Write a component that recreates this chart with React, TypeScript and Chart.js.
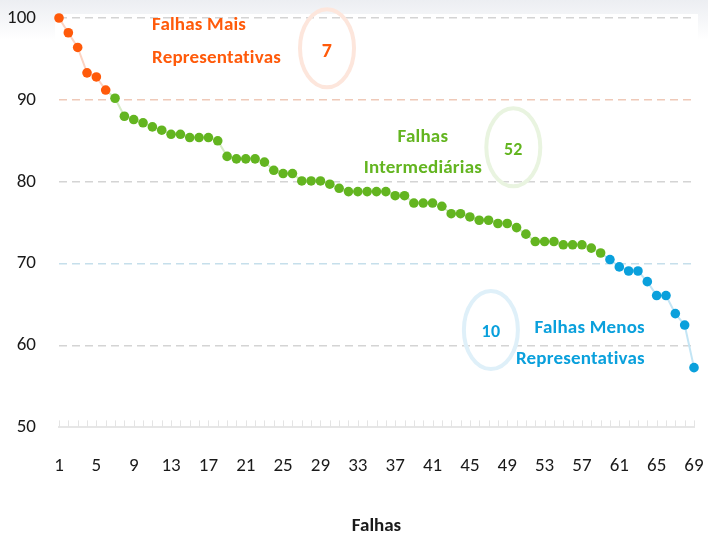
import React, { useEffect, useRef } from 'react';
import { Chart, registerables } from 'chart.js';

Chart.register(...registerables);

const categories: string[] = Array.from({ length: 69 }, (_, i) => String(i + 1));

const values: number[] = [
  100, 98.2, 96.4, 93.3, 92.8, 91.2, 90.2, 88.0, 87.6, 87.2,
  86.7, 86.3, 85.8, 85.8, 85.4, 85.4, 85.4, 85.0, 83.1, 82.8,
  82.8, 82.8, 82.4, 81.4, 81.0, 81.0, 80.1, 80.1, 80.1, 79.7,
  79.2, 78.8, 78.8, 78.8, 78.8, 78.8, 78.3, 78.3, 77.4, 77.4,
  77.4, 77.0, 76.1, 76.1, 75.7, 75.3, 75.3, 74.9, 74.9, 74.4,
  73.6, 72.7, 72.7, 72.7, 72.3, 72.3, 72.3, 71.9, 71.3, 70.5,
  69.6, 69.1, 69.1, 67.8, 66.1, 66.1, 63.9, 62.5, 57.3,
];

// number of consecutive points drawn in each colour group
const groupSizes: number[] = [6, 53, 10];
const groupColors: string[] = ['#ff5a0a', '#63b520', '#0aa0dc'];
const groupLineColors: string[] = ['#fcd3c2', '#d6ecc6', '#c3e5f5'];
const groupCircleColors: string[] = ['#fde6dc', '#e9f4e0', '#dff0f9'];

const groupTitles: string[][] = [
  ['Falhas Mais', 'Representativas'],
  ['Falhas', 'Intermediárias'],
  ['Falhas Menos', 'Representativas'],
];
const groupCounts: string[] = ['7', '52', '10'];

// annotation anchors in data units (category index, value)
const titleAnchors = [
  { x: 9.96, y1: 99.1, y2: 95.1, align: 'left' },
  { x: 38.97, y1: 85.4, y2: 81.6, align: 'center' },
  { x: 62.74, y1: 62.1, y2: 58.3, align: 'right' },
];
const circleAnchors = [
  { x: 28.7, y: 96.3 },
  { x: 48.65, y: 84.2 },
  { x: 46.25, y: 61.9 },
];

const yTicks: number[] = [50, 60, 70, 80, 90, 100];
const xTickEvery = 4;

const FONT = "Carlito, 'Open Sans Condensed', 'Roboto Condensed', sans-serif";

const pointGroup: number[] = [];
groupSizes.forEach((n, g) => {
  for (let i = 0; i < n; i++) pointGroup.push(g);
});

const annotationPlugin = {
  id: 'annotations',
  beforeDraw(chart: any) {
    const { ctx, chartArea } = chart;
    ctx.save();
    ctx.fillStyle = '#ffffff';
    ctx.fillRect(chartArea.left - 4, chartArea.top - 4, chartArea.right - chartArea.left + 8, chartArea.bottom - chartArea.top + 4);
    ctx.restore();
  },
  beforeDatasetsDraw(chart: any) {
    const { ctx, scales, chartArea } = chart;
    const xs = scales.x;
    const ys = scales.y;
    ctx.save();
    // upward tick marks on x axis
    ctx.strokeStyle = '#e4e4e4';
    ctx.lineWidth = 1;
    for (let i = 0; i < categories.length; i++) {
      const px = Math.round(xs.getPixelForValue(i)) + 0.5;
      ctx.beginPath();
      ctx.moveTo(px, chartArea.bottom);
      ctx.lineTo(px, chartArea.bottom - 7);
      ctx.stroke();
    }
    try {
      (ctx as any).letterSpacing = '0.2px';
    } catch (e) {
      /* ignore */
    }
    // circles with counts
    circleAnchors.forEach((c, g) => {
      const cx = xs.getPixelForValue(c.x);
      const cy = ys.getPixelForValue(c.y);
      ctx.beginPath();
      ctx.ellipse(cx, cy, 27, 39, 0, 0, Math.PI * 2);
      ctx.strokeStyle = groupCircleColors[g];
      ctx.lineWidth = 4;
      ctx.stroke();
      ctx.fillStyle = groupColors[g];
      ctx.font = `bold ${g === 0 ? 20 : 18}px ${FONT}`;
      ctx.textAlign = 'center';
      ctx.textBaseline = 'middle';
      ctx.fillText(groupCounts[g], cx, cy + (g === 0 ? 4 : 3));
    });
    // group titles
    titleAnchors.forEach((t, g) => {
      const tx = xs.getPixelForValue(t.x);
      ctx.fillStyle = groupColors[g];
      ctx.font = `bold 19px ${FONT}`;
      ctx.textAlign = t.align;
      ctx.textBaseline = 'middle';
      ctx.fillText(groupTitles[g][0], tx, ys.getPixelForValue(t.y1));
      ctx.fillText(groupTitles[g][1], tx, ys.getPixelForValue(t.y2));
    });
    ctx.restore();
  },
};

export default function App() {
  const ref = useRef<HTMLCanvasElement | null>(null);

  useEffect(() => {
    document.body.style.margin = '0';
    const canvas = ref.current;
    if (!canvas) return;
    const chart = new Chart(canvas, {
      type: 'line',
      data: {
        labels: categories,
        datasets: [
          {
            data: values,
            borderWidth: 2,
            borderColor: groupLineColors[1],
            segment: {
              borderColor: (c: any) => groupLineColors[pointGroup[c.p1DataIndex]],
            },
            pointRadius: 4.8,
            pointHoverRadius: 4.8,
            pointBorderWidth: 0,
            pointBackgroundColor: values.map((_, i) => groupColors[pointGroup[i]]),
            tension: 0,
            clip: false,
          } as any,
        ],
      },
      options: {
        responsive: false,
        animation: false,
        layout: { padding: { top: 18, right: 14, left: 0, bottom: 0 } },
        plugins: { legend: { display: false }, tooltip: { enabled: false } },
        scales: {
          x: {
            grid: { display: false, drawTicks: true, tickLength: 27 },
            border: { display: true, color: '#e6e6e6', width: 2 },
            ticks: {
              autoSkip: false,
              maxRotation: 0,
              minRotation: 0,
              padding: 0,
              color: '#1a1a1a',
              font: { family: FONT, size: 19 },
              callback: (_v: any, i: number) => (i % xTickEvery === 0 ? categories[i] : ''),
            },
            title: {
              display: true,
              text: 'Falhas',
              color: '#1a1a1a',
              font: { family: FONT, size: 19, weight: 'bold' },
              padding: { top: 38, bottom: 0 },
            },
          },
          y: {
            min: yTicks[0],
            max: yTicks[yTicks.length - 1],
            afterBuildTicks: (s: any) => {
              s.ticks = yTicks.map((v) => ({ value: v }));
            },
            afterFit: (s: any) => {
              s.width = 59;
            },
            ticks: {
              padding: 0,
              color: '#1a1a1a',
              font: { family: FONT, size: 19 },
            },
            grid: {
              drawTicks: true,
              tickLength: 23,
              tickColor: 'rgba(0,0,0,0)',
              lineWidth: 1.5,
              color: (c: any) => {
                const v = c.tick && c.tick.value;
                if (v === 50) return 'rgba(0,0,0,0)';
                if (v === 90) return '#efc9b8';
                if (v === 70) return '#c6dfeb';
                return '#d4d4d4';
              },
            },
            border: { display: false, dash: [8, 5] },
          },
        },
      },
      plugins: [annotationPlugin],
    } as any);
    return () => chart.destroy();
  }, []);

  return (
    <div
      style={{
        width: 708,
        height: 538,
        background: 'linear-gradient(180deg, #eceef2 0px, #ffffff 40px)',
      }}
    >
      <canvas ref={ref} width={708} height={538} style={{ display: 'block' }} />
    </div>
  );
}
